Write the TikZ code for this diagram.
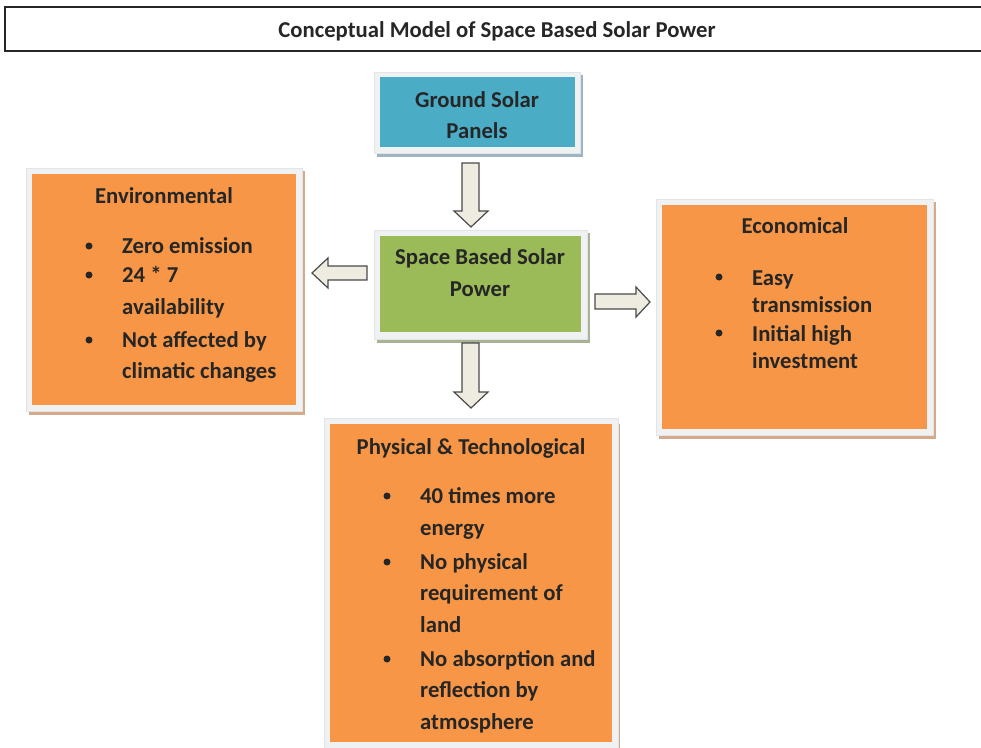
\documentclass[tikz,border=0pt]{standalone}
\usepackage{fontspec}
\setmainfont{Carlito}
\definecolor{txt}{HTML}{262626}
\definecolor{blueF}{HTML}{4BACC6}
\definecolor{greenF}{HTML}{9BBB59}
\definecolor{orangeF}{HTML}{F79646}
\definecolor{frameF}{HTML}{F0F1F3}
\definecolor{frameD}{HTML}{E2E4E6}
\definecolor{shBlue}{HTML}{9DB5C2}
\definecolor{shGreen}{HTML}{A8B394}
\definecolor{shOrange}{HTML}{D4AA8A}
\definecolor{arrowF}{HTML}{EEECE1}
\definecolor{arrowD}{HTML}{4A4A4A}
\tikzset{
  lbl/.style={font=\bfseries\fontsize{22.7}{22.7}\selectfont, text=txt, inner sep=0pt},
  lblw/.style={lbl, anchor=base west},
  lblc/.style={lbl, anchor=base},
  bul/.style={circle, fill=txt, inner sep=0pt, minimum size=7pt},
  framebox/.style={fill=frameF, draw=frameD, line width=0.6pt},
  blockarrow/.style={fill=arrowF, draw=arrowD, line width=1.2pt, line join=miter},
}
\begin{document}
\begin{tikzpicture}[x=1pt,y=-1pt]
\useasboundingbox (0,0) rectangle (981,747);
% title
\draw[line width=1.3pt, draw=black!85] (5,7) rectangle (990,51);
\node[lbl, anchor=base] (title) at (497,37) {Conceptual Model of Space Based Solar Power};

% Ground Solar Panels
\fill[shBlue] (377,75) rectangle (583,157);
\draw[framebox] (374,72) rectangle (580,153);
\fill[blueF] (380,77) rectangle (575,147);
\node[lblc] (gsp1) at (477,107) {Ground Solar};
\node[lblc] (gsp2) at (477,138) {Panels};

% Space Based Solar Power
\fill[shGreen] (377,233) rectangle (590,343);
\draw[framebox] (374,230) rectangle (587,339);
\fill[greenF] (380,236) rectangle (581,332);
\node[lblc] (sbsp1) at (480,264) {Space Based Solar};
\node[lblc] (sbsp2) at (480,296) {Power};

% Environmental
\fill[shOrange] (29,171) rectangle (305,415);
\draw[framebox] (26,168) rectangle (302,411);
\fill[orangeF] (32,174) rectangle (296,405);
\node[lblc] (envt) at (164,203) {Environmental};
\node[bul] (envb1) at (89,246) {};
\node[bul] (envb2) at (89,275) {};
\node[bul] (envb3) at (89,340) {};
\node[lblw] (env1) at (122,253) {Zero emission};
\node[lblw] (env2) at (122,282) {24 * 7};
\node[lblw] (env3) at (122,314) {availability};
\node[lblw] (env4) at (122,347) {Not affected by};
\node[lblw] (env5) at (122,378) {climatic changes};

% Economical
\fill[shOrange] (659,202) rectangle (936,439);
\draw[framebox] (656,199) rectangle (933,435);
\fill[orangeF] (662,205) rectangle (927,429);
\node[lblc] (ecot) at (795,233) {Economical};
\node[bul] (ecob1) at (719,277) {};
\node[bul] (ecob2) at (719,333) {};
\node[lblw] (eco1) at (752,285) {Easy};
\node[lblw] (eco2) at (752,312) {transmission};
\node[lblw] (eco3) at (752,341) {Initial high};
\node[lblw] (eco4) at (752,368) {investment};

% Physical & Technological
\fill[shOrange] (327,424) rectangle (620,760);
\draw[framebox] (324,418) rectangle (618,760);
\fill[orangeF] (330,424) rectangle (612,742);
\node[lblc] (phyt) at (471,454) {Physical \& Technological};
\node[bul] (phyb1) at (387,496) {};
\node[bul] (phyb2) at (387,562) {};
\node[bul] (phyb3) at (387,659) {};
\node[lblw] (phy1) at (420,503) {40 times more};
\node[lblw] (phy2) at (420,535) {energy};
\node[lblw] (phy3) at (420,569) {No physical};
\node[lblw] (phy4) at (420,600) {requirement of};
\node[lblw] (phy5) at (420,632) {land};
\node[lblw] (phy6) at (420,666) {No absorption and};
\node[lblw] (phy7) at (420,697) {reflection by};
\node[lblw] (phy8) at (420,729) {atmosphere};

% block arrows
\draw[blockarrow] (462,163) -- (479,163) -- (479,211) -- (488,211) -- (471,227) -- (454,211) -- (462,211) -- cycle;
\draw[blockarrow] (462,343) -- (479,343) -- (479,392) -- (488,392) -- (471,408) -- (454,392) -- (462,392) -- cycle;
\draw[blockarrow] (367,266) -- (367,280) -- (328,280) -- (328,288) -- (312,273) -- (328,258) -- (328,266) -- cycle;
\draw[blockarrow] (595,294) -- (636,294) -- (636,287) -- (650,302) -- (636,317) -- (636,309) -- (595,309) -- cycle;
\end{tikzpicture}
\end{document}
